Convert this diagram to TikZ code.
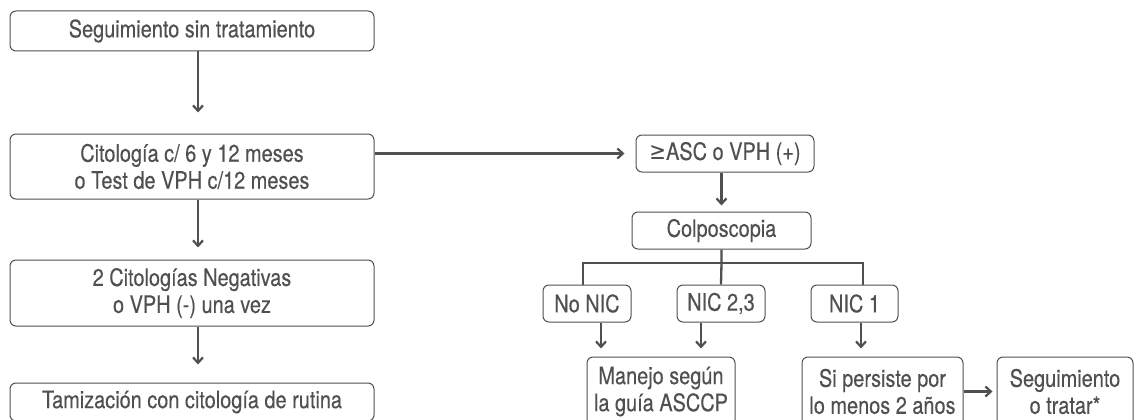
\documentclass[tikz,border=0pt]{standalone}
\usepackage{fontspec}
\setmainfont{TeX Gyre Heros}[FakeStretch=0.83,FakeBold=0.3]
\newfontfamily\symfont{DejaVu Sans}[FakeStretch=0.83]
\usetikzlibrary{arrows.meta}
\definecolor{ink}{HTML}{505050}
\begin{document}
\begin{tikzpicture}[x=1pt,y=-1pt,
  box/.style={draw=ink, line width=1pt, rounded corners=6pt, inner sep=0pt,
              align=center, text=ink, font=\fontsize{24}{27}\selectfont},
  conn/.style={draw=ink, line width=2.3pt},
  arr/.style={conn, -{Straight Barb[length=5.5pt,width=10pt,line width=2.2pt]}},
]
\useasboundingbox (0,0) rectangle (1136,420);
\clip (0,0) rectangle (1136,420);

% left column
\node[box, minimum width=364pt, minimum height=40pt] (b1) at (192,31) {Seguimiento sin tratamiento};
\node[box, minimum width=364pt, minimum height=65pt] (b2) at (192,166.5) {Citología c/ 6 y 12 meses\\o Test de VPH c/12 meses};
\node[box, minimum width=364pt, minimum height=66pt] (b3) at (192,293) {2 Citologías Negativas\\o VPH (-) una vez};
\node[box, minimum width=364pt, minimum height=38pt] (b4) at (192,402) {Tamización con citología de rutina};

% right branch
\node[box, minimum width=178pt, minimum height=37pt] (asc) at (725,153.5) {{\symfont ≥}ASC o VPH (+)};
\node[box, minimum width=179pt, minimum height=37pt] (colpo) at (721.5,230.5) {Colposcopia};
\node[box, minimum width=88pt, minimum height=37pt] (nono) at (587,303.5) {No NIC};
\node[box, minimum width=88pt, minimum height=37pt] (nic23) at (721,303.5) {NIC 2,3};
\node[box, minimum width=87pt, minimum height=37pt] (nic1) at (854.5,303.5) {NIC 1};
\node[box, minimum width=148pt, minimum height=69pt] (manejo) at (661,391.5) {Manejo según\\la guía ASCCP};
\node[box, minimum width=161pt, minimum height=69pt] (si) at (882.5,391.5) {Si persiste por\\lo menos 2 años};
\node[box, minimum width=136pt, minimum height=69pt] (seg) at (1065,391.5) {Seguimiento\\o tratar*};

% left column arrows
\coordinate (c1) at ([xshift=6pt]b1.south);
\coordinate (c2) at ([xshift=6pt]b2.south);
\coordinate (c3) at ([xshift=6pt]b3.south);
\draw[arr, shorten >=21pt] (c1) -- (c1 |- b2.north);
\draw[arr, shorten >=12pt] (c2) -- (c2 |- b3.north);
\draw[arr, shorten >=18pt] (c3) -- (c3 |- b4.north);

% to the right branch
\draw[arr, shorten >=11pt] (b2.east |- asc.west) -- (asc.west);
\draw[arr, shorten >=6pt] (colpo.north |- asc.south) -- (colpo.north);

% split below colposcopy
\coordinate (split) at (colpo.south |- 0,263);
\draw[conn] (colpo.south) -- (split) -- (nic23.north);
\draw[conn] ([xshift=-4pt]nono.north) |- (split) -| ([xshift=8.5pt]nic1.north);

% results to management
\coordinate (d1) at ([xshift=14pt]nono.south);
\coordinate (d2) at ([xshift=-20pt]nic23.south);
\coordinate (d3) at ([xshift=6.5pt]nic1.south);
\draw[arr, shorten >=8pt] (d1) -- (d1 |- manejo.north);
\draw[arr, shorten >=8pt] (d2) -- (d2 |- manejo.north);
\draw[arr, shorten >=8pt] (d3) -- (d3 |- si.north);
\draw[arr, shorten >=4pt] (si.east) -- (seg.west);
\end{tikzpicture}
\end{document}
